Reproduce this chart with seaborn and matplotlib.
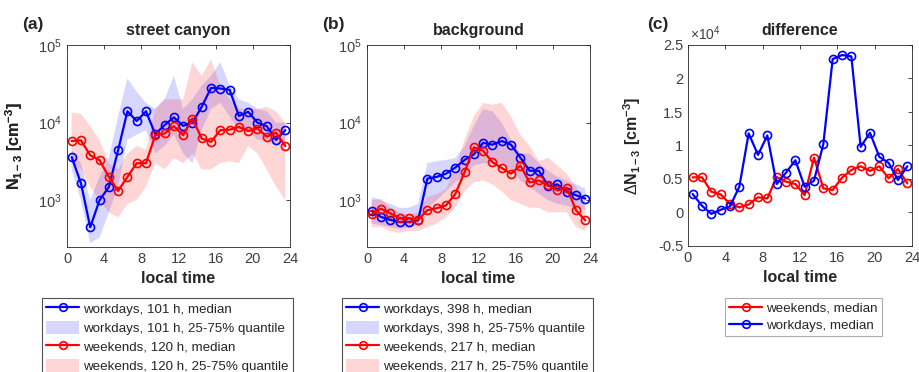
import matplotlib
matplotlib.use("Agg")
import matplotlib.pyplot as plt
import seaborn as sns
import pandas as pd
from matplotlib.lines import Line2D
from matplotlib.patches import Patch
from matplotlib.ticker import FixedLocator, FuncFormatter, NullLocator

# local time (hour centres)
hours = [0.5, 1.5, 2.5, 3.5, 4.5, 5.5, 6.5, 7.5, 8.5, 9.5, 10.5, 11.5,
         12.5, 13.5, 14.5, 15.5, 16.5, 17.5, 18.5, 19.5, 20.5, 21.5, 22.5, 23.5]

# (a) street canyon, N1-3 [cm-3]
sc_work_med = [3600, 1660, 450, 1000, 1480, 4400, 14000, 10500, 14000, 7100, 9300, 11700,
               9100, 10000, 16000, 28000, 27500, 26500, 12200, 13800, 10000, 9000, 6000, 8000]
sc_work_lo = [2500, 1000, 280, 330, 700, 1500, 6000, 7000, 8000, 4000, 5000, 7000,
              4000, 3000, 8000, 15000, 18000, 12000, 8000, 8000, 6000, 6000, 5000, 6000]
sc_work_hi = [4500, 3000, 1000, 2000, 3500, 12000, 37000, 25000, 18000, 15000, 20000, 40000,
              15000, 20000, 30000, 40000, 60000, 30000, 20000, 18000, 15000, 14000, 10000, 10000]
sc_wknd_med = [5800, 5900, 3800, 3300, 2000, 1320, 2000, 3000, 3000, 6900, 7250, 9000,
               6900, 11300, 6250, 5650, 8000, 8100, 8800, 7800, 8400, 6600, 7400, 5000]
sc_wknd_lo = [3000, 2500, 1500, 1000, 700, 600, 900, 1000, 1500, 3000, 2500, 3500,
              3000, 4000, 2500, 2500, 3000, 3200, 3000, 5000, 4000, 2500, 1500, 1000]
sc_wknd_hi = [13500, 13000, 9000, 6000, 3000, 2500, 4000, 5000, 4500, 15000, 20000, 20000,
              20000, 60000, 40000, 65000, 30000, 20000, 15000, 15000, 15000, 16000, 14000, 10000]

# (b) background, N1-3 [cm-3]
bg_work_med = [730, 610, 560, 525, 525, 550, 1900, 2000, 2200, 2640, 3300, 3900,
               5500, 5200, 5800, 5200, 3550, 2400, 2400, 1530, 1600, 1280, 1160, 1050]
bg_work_lo = [500, 480, 450, 430, 440, 480, 800, 1000, 1300, 1700, 2000, 2800,
              3000, 3000, 3000, 2500, 1800, 1500, 1200, 1000, 900, 850, 800, 750]
bg_work_hi = [1100, 1000, 900, 800, 800, 900, 3000, 3200, 3300, 3500, 5000, 9000,
              15000, 14000, 10000, 6000, 4000, 4000, 3000, 2400, 2000, 1800, 1600, 1400]
bg_wknd_med = [660, 780, 680, 590, 590, 560, 745, 790, 860, 1200, 2300, 4800,
               4330, 3100, 2600, 2200, 2800, 1700, 1800, 1550, 1340, 1450, 740, 550]
bg_wknd_lo = [450, 450, 400, 380, 400, 400, 450, 500, 600, 800, 1300, 1700,
              1800, 1600, 1300, 1000, 900, 800, 800, 700, 700, 700, 450, 400]
bg_wknd_hi = [1000, 1050, 800, 700, 650, 700, 1100, 1200, 1400, 2500, 6000, 12000,
              18000, 17000, 18000, 12000, 7000, 5000, 3200, 3500, 2800, 2200, 1500, 800]

# (c) difference street canyon - background [cm-3]
diff_wknd = [5250, 5250, 3100, 2700, 1270, 770, 1200, 2270, 2100, 5300, 4600, 4250,
             2600, 8200, 3600, 3350, 5200, 6350, 6900, 6200, 6900, 5100, 6500, 4350]
diff_work = [2760, 1000, -200, 400, 900, 3850, 11800, 8600, 11500, 4250, 5950, 7800,
             3850, 4750, 10200, 22900, 23500, 23300, 9800, 11900, 8300, 7400, 4850, 6900]

BLUE = "#0000ff"
RED = "#ff0000"
GREY = "#262626"

sns.set_style("white")
plt.rcParams["font.family"] = ["Liberation Sans", "DejaVu Sans"]
plt.rcParams["mathtext.fontset"] = "custom"
plt.rcParams["mathtext.rm"] = "Liberation Sans"
plt.rcParams["mathtext.it"] = "Liberation Sans:italic"
plt.rcParams["mathtext.bf"] = "Liberation Sans:bold"

fig = plt.figure(figsize=(9.19, 3.72), dpi=100)
W, H = 919.0, 372.0


def make_axes(left, right, top, bottom):
    return fig.add_axes([left / W, 1 - bottom / H, (right - left) / W, (bottom - top) / H])


def style_axes(ax):
    for s in ax.spines.values():
        s.set_color(GREY)
        s.set_linewidth(0.6)
    ax.tick_params(direction="in", top=True, right=True, length=3, width=0.6,
                   colors=GREY, labelcolor="#404040", labelsize=10.5)
    ax.set_xlim(0, 24)
    ax.xaxis.set_major_locator(FixedLocator([0, 4, 8, 12, 16, 20, 24]))
    ax.set_xlabel("local time", fontweight="bold", fontsize=11.5)
    ax.xaxis.labelpad = 4


def med_line(ax, y, color):
    df = pd.DataFrame({"t": hours, "v": y})
    sns.lineplot(data=df, x="t", y="v", ax=ax, color=color, lw=1.6, marker="o",
                 markersize=5.8, markerfacecolor="none", markeredgecolor=color,
                 markeredgewidth=1.2, sort=False)


def band(ax, lo, hi, color):
    ax.fill_between(hours, lo, hi, color=color, alpha=0.2, lw=0.6, edgecolor="none")


ylab = r"N$_{\mathbf{1-3}}$ [cm$^{\mathbf{-3}}$]"

panels = [
    (67, 290, "street canyon", "(a)", 22, sc_work_med, sc_work_lo, sc_work_hi,
     sc_wknd_med, sc_wknd_lo, sc_wknd_hi, "101 h", "120 h", 42),
    (367, 590, "background", "(b)", 322, bg_work_med, bg_work_lo, bg_work_hi,
     bg_wknd_med, bg_wknd_lo, bg_wknd_hi, "398 h", "217 h", 342),
]

for (l, r, title, tag, tagx, wm, wl, wh, em, el, eh, wn, en, legx) in panels:
    ax = make_axes(l, r, 45, 247)
    band(ax, wl, wh, "#3333ff")
    band(ax, el, eh, "#ff3333")
    med_line(ax, wm, BLUE)
    med_line(ax, em, RED)
    ax.set_yscale("log")
    ax.set_ylim(250, 1e5)
    ax.yaxis.set_major_locator(FixedLocator([1e3, 1e4, 1e5]))
    ax.yaxis.set_minor_locator(NullLocator())
    style_axes(ax)
    ax.set_ylabel(ylab, fontweight="bold", fontsize=11.5)
    ax.yaxis.set_label_coords((25 - l) / (r - l), 0.5)
    ax.set_title(title, fontweight="bold", fontsize=11.5, pad=7)
    fig.text(tagx / W, 1 - 25 / H, tag, fontweight="bold", fontsize=12.5, va="center")

    handles = [
        Line2D([], [], color=BLUE, lw=1.6, marker="o", markersize=5.5,
               markerfacecolor="none", markeredgewidth=1.2),
        Patch(facecolor="#3333ff", alpha=0.2, edgecolor="none"),
        Line2D([], [], color=RED, lw=1.6, marker="o", markersize=5.5,
               markerfacecolor="none", markeredgewidth=1.2),
        Patch(facecolor="#ff3333", alpha=0.2, edgecolor="none"),
    ]
    labels = [
        f"workdays, {wn}, median",
        f"workdays, {wn}, 25-75% quantile",
        f"weekends, {en}, median",
        f"weekends, {en}, 25-75% quantile",
    ]
    leg = fig.legend(handles, labels, loc="upper left",
                     bbox_to_anchor=(legx / W, 1 - 298 / H), bbox_transform=fig.transFigure,
                     fontsize=9.6, frameon=True, fancybox=False, borderpad=0.3,
                     labelspacing=0.38, handlelength=2.5, handleheight=1.1,
                     handletextpad=0.3, borderaxespad=0)
    leg.get_frame().set_edgecolor(GREY)
    leg.get_frame().set_linewidth(0.8)

# (c) difference
axc = make_axes(688, 912, 45, 246)
dfc = pd.DataFrame({"t": hours, "wknd": diff_wknd, "work": diff_work})
sns.lineplot(data=dfc, x="t", y="wknd", ax=axc, color=RED, lw=1.6, marker="o",
             markersize=5.8, markerfacecolor="none", markeredgecolor=RED,
             markeredgewidth=1.2, sort=False)
sns.lineplot(data=dfc, x="t", y="work", ax=axc, color=BLUE, lw=1.6, marker="o",
             markersize=5.8, markerfacecolor="none", markeredgecolor=BLUE,
             markeredgewidth=1.2, sort=False)
axc.set_ylim(-5000, 25000)
axc.yaxis.set_major_locator(FixedLocator([-5000, 0, 5000, 10000, 15000, 20000, 25000]))
axc.yaxis.set_major_formatter(FuncFormatter(lambda v, p: f"{v / 1e4:g}"))
style_axes(axc)
axc.set_ylabel(r"$\Delta$N$_{\mathbf{1-3}}$ [cm$^{\mathbf{-3}}$]", fontweight="bold", fontsize=11.5)
axc.yaxis.set_label_coords((643 - 688) / 224.0, 0.5)
axc.set_title("difference", fontweight="bold", fontsize=11.5, pad=7)
fig.text(647 / W, 1 - 25 / H, "(c)", fontweight="bold", fontsize=12.5, va="center")
fig.text(690 / W, 1 - 34 / H, r"$\times$10$^{4}$", color="#404040", fontsize=10, va="center")

hc = [Line2D([], [], color=RED, lw=1.6, marker="o", markersize=5.5,
             markerfacecolor="none", markeredgewidth=1.2),
      Line2D([], [], color=BLUE, lw=1.6, marker="o", markersize=5.5,
             markerfacecolor="none", markeredgewidth=1.2)]
legc = fig.legend(hc, ["weekends, median", "workdays, median"], loc="upper left",
                  bbox_to_anchor=(725 / W, 1 - 298 / H), bbox_transform=fig.transFigure,
                  fontsize=9.6, frameon=True, fancybox=False, borderpad=0.3,
                  labelspacing=0.38, handlelength=2.5, handletextpad=0.3, borderaxespad=0)
legc.get_frame().set_edgecolor("#999999")
legc.get_frame().set_linewidth(0.8)

fig.savefig("out.png", dpi=100, facecolor="white")
